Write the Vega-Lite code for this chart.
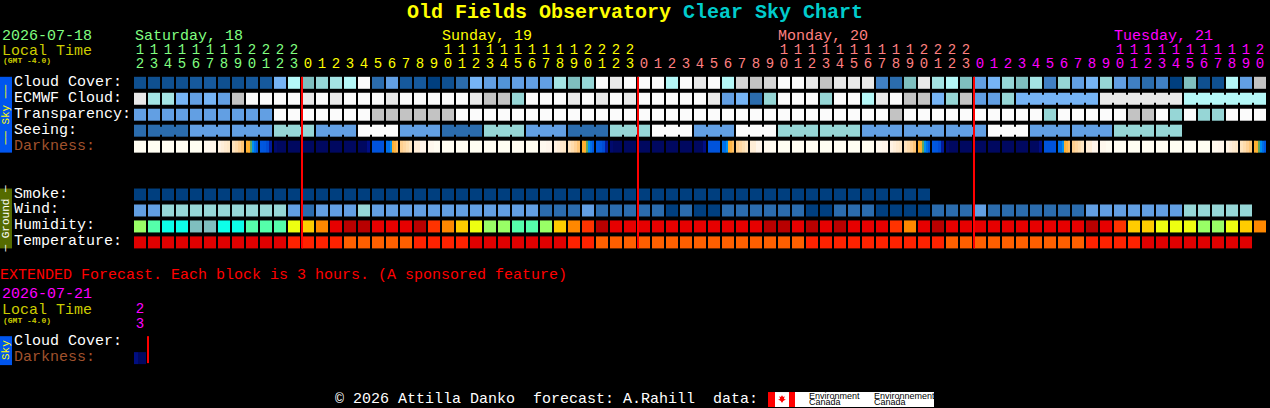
{"$schema":"https://vega.github.io/schema/vega-lite/v6.json","width":1270,"height":408,"padding":0,"autosize":{"type":"fit","contains":"padding"},"background":"#000000","config":{"view":{"stroke":null},"text":{"font":"Liberation Mono"}},
"datasets":{
"rows":[{"row":"tens","lane":-2.0625,"label":""},{"row":"ones","lane":-1.1875,"label":""},{"row":"cloud","lane":0,"label":"Cloud Cover:","tone":"white"},{"row":"ecmwf","lane":1,"label":"ECMWF Cloud:","tone":"white"},{"row":"transparency","lane":2,"label":"Transparency:","tone":"white"},{"row":"seeing","lane":3,"label":"Seeing:","tone":"white"},{"row":"darkness","lane":4,"label":"Darkness:","tone":"brown"},{"row":"smoke","lane":7,"label":"Smoke:","tone":"white"},{"row":"wind","lane":8,"label":"Wind:","tone":"white"},{"row":"humidity","lane":9,"label":"Humidity:","tone":"white"},{"row":"temperature","lane":10,"label":"Temperature:","tone":"white"},{"row":"xtens","lane":14.1875,"label":""},{"row":"xones","lane":15.125,"label":""},{"row":"xcloud","lane":16.25,"label":"Cloud Cover:","tone":"white"},{"row":"xdarkness","lane":17.25,"label":"Darkness:","tone":"brown"}],
"cells":[
{"hour":0,"row":"cloud","level":"b1"},{"hour":1,"row":"cloud","level":"b1"},{"hour":2,"row":"cloud","level":"b1"},{"hour":3,"row":"cloud","level":"b1"},{"hour":4,"row":"cloud","level":"b1b"},{"hour":5,"row":"cloud","level":"b1b"},{"hour":6,"row":"cloud","level":"b1"},{"hour":7,"row":"cloud","level":"b1"},{"hour":8,"row":"cloud","level":"b1b"},{"hour":9,"row":"cloud","level":"b1b"},{"hour":10,"row":"cloud","level":"b6"},{"hour":11,"row":"cloud","level":"t3"},{"hour":12,"row":"cloud","level":"t0"},{"hour":13,"row":"cloud","level":"t1"},{"hour":14,"row":"cloud","level":"t2"},{"hour":15,"row":"cloud","level":"t3"},{"hour":16,"row":"cloud","level":"w"},{"hour":17,"row":"cloud","level":"b2"},{"hour":18,"row":"cloud","level":"b5"},{"hour":19,"row":"cloud","level":"b1b"},{"hour":20,"row":"cloud","level":"b1b"},{"hour":21,"row":"cloud","level":"b0"},{"hour":22,"row":"cloud","level":"b1"},{"hour":23,"row":"cloud","level":"b2"},{"hour":24,"row":"cloud","level":"b6"},{"hour":25,"row":"cloud","level":"b5"},{"hour":26,"row":"cloud","level":"b4"},{"hour":27,"row":"cloud","level":"b5"},{"hour":28,"row":"cloud","level":"b5"},{"hour":29,"row":"cloud","level":"b5"},{"hour":30,"row":"cloud","level":"t2"},{"hour":31,"row":"cloud","level":"t0"},{"hour":32,"row":"cloud","level":"t1"},{"hour":33,"row":"cloud","level":"w"},{"hour":34,"row":"cloud","level":"g2"},{"hour":35,"row":"cloud","level":"w"},{"hour":36,"row":"cloud","level":"w"},{"hour":37,"row":"cloud","level":"w"},{"hour":38,"row":"cloud","level":"t3"},{"hour":39,"row":"cloud","level":"w"},{"hour":40,"row":"cloud","level":"g2"},{"hour":41,"row":"cloud","level":"w"},{"hour":42,"row":"cloud","level":"t3"},{"hour":43,"row":"cloud","level":"g1"},{"hour":44,"row":"cloud","level":"g0"},{"hour":45,"row":"cloud","level":"g1"},{"hour":46,"row":"cloud","level":"w"},{"hour":47,"row":"cloud","level":"w"},{"hour":48,"row":"cloud","level":"g2"},{"hour":49,"row":"cloud","level":"g0"},{"hour":50,"row":"cloud","level":"g2"},{"hour":51,"row":"cloud","level":"g2"},{"hour":52,"row":"cloud","level":"g2"},{"hour":53,"row":"cloud","level":"b3"},{"hour":54,"row":"cloud","level":"b2"},{"hour":55,"row":"cloud","level":"t0"},{"hour":56,"row":"cloud","level":"g2"},{"hour":57,"row":"cloud","level":"t2"},{"hour":58,"row":"cloud","level":"t3"},{"hour":59,"row":"cloud","level":"t0"},{"hour":60,"row":"cloud","level":"b5"},{"hour":61,"row":"cloud","level":"b6"},{"hour":62,"row":"cloud","level":"t1"},{"hour":63,"row":"cloud","level":"t0"},{"hour":64,"row":"cloud","level":"t2"},{"hour":65,"row":"cloud","level":"b3"},{"hour":66,"row":"cloud","level":"t1"},{"hour":67,"row":"cloud","level":"b5"},{"hour":68,"row":"cloud","level":"b6"},{"hour":69,"row":"cloud","level":"t1"},{"hour":70,"row":"cloud","level":"b5"},{"hour":71,"row":"cloud","level":"b3"},{"hour":72,"row":"cloud","level":"b2"},{"hour":73,"row":"cloud","level":"b3"},{"hour":74,"row":"cloud","level":"b0"},{"hour":75,"row":"cloud","level":"t0"},{"hour":76,"row":"cloud","level":"b1"},{"hour":77,"row":"cloud","level":"b1"},{"hour":78,"row":"cloud","level":"t3"},{"hour":79,"row":"cloud","level":"b5"},{"hour":80,"row":"cloud","level":"g0"},
{"hour":0,"row":"ecmwf","level":"g2"},{"hour":1,"row":"ecmwf","level":"t2"},{"hour":2,"row":"ecmwf","level":"t2"},{"hour":3,"row":"ecmwf","level":"b6"},{"hour":4,"row":"ecmwf","level":"b5"},{"hour":5,"row":"ecmwf","level":"b6"},{"hour":6,"row":"ecmwf","level":"b5"},{"hour":7,"row":"ecmwf","level":"g0"},{"hour":8,"row":"ecmwf","level":"w"},{"hour":9,"row":"ecmwf","level":"w"},{"hour":10,"row":"ecmwf","level":"w"},{"hour":11,"row":"ecmwf","level":"w"},{"hour":12,"row":"ecmwf","level":"g2"},{"hour":13,"row":"ecmwf","level":"w"},{"hour":14,"row":"ecmwf","level":"g2"},{"hour":15,"row":"ecmwf","level":"w"},{"hour":16,"row":"ecmwf","level":"w"},{"hour":17,"row":"ecmwf","level":"w"},{"hour":18,"row":"ecmwf","level":"g2"},{"hour":19,"row":"ecmwf","level":"w"},{"hour":20,"row":"ecmwf","level":"w"},{"hour":21,"row":"ecmwf","level":"w"},{"hour":22,"row":"ecmwf","level":"w"},{"hour":23,"row":"ecmwf","level":"w"},{"hour":24,"row":"ecmwf","level":"g2"},{"hour":25,"row":"ecmwf","level":"g0"},{"hour":26,"row":"ecmwf","level":"g0"},{"hour":27,"row":"ecmwf","level":"t1"},{"hour":28,"row":"ecmwf","level":"w"},{"hour":29,"row":"ecmwf","level":"w"},{"hour":30,"row":"ecmwf","level":"w"},{"hour":31,"row":"ecmwf","level":"g2"},{"hour":32,"row":"ecmwf","level":"w"},{"hour":33,"row":"ecmwf","level":"g2"},{"hour":34,"row":"ecmwf","level":"w"},{"hour":35,"row":"ecmwf","level":"g2"},{"hour":36,"row":"ecmwf","level":"w"},{"hour":37,"row":"ecmwf","level":"w"},{"hour":38,"row":"ecmwf","level":"w"},{"hour":39,"row":"ecmwf","level":"w"},{"hour":40,"row":"ecmwf","level":"w"},{"hour":41,"row":"ecmwf","level":"g2"},{"hour":42,"row":"ecmwf","level":"b5"},{"hour":43,"row":"ecmwf","level":"b6"},{"hour":44,"row":"ecmwf","level":"b2"},{"hour":45,"row":"ecmwf","level":"t1"},{"hour":46,"row":"ecmwf","level":"w"},{"hour":47,"row":"ecmwf","level":"w"},{"hour":48,"row":"ecmwf","level":"w"},{"hour":49,"row":"ecmwf","level":"t1"},{"hour":50,"row":"ecmwf","level":"w"},{"hour":51,"row":"ecmwf","level":"w"},{"hour":52,"row":"ecmwf","level":"t3"},{"hour":53,"row":"ecmwf","level":"g2"},{"hour":54,"row":"ecmwf","level":"w"},{"hour":55,"row":"ecmwf","level":"g0"},{"hour":56,"row":"ecmwf","level":"g0"},{"hour":57,"row":"ecmwf","level":"b6"},{"hour":58,"row":"ecmwf","level":"t1"},{"hour":59,"row":"ecmwf","level":"g0"},{"hour":60,"row":"ecmwf","level":"b5"},{"hour":61,"row":"ecmwf","level":"b5"},{"hour":62,"row":"ecmwf","level":"t1"},{"hour":63,"row":"ecmwf","level":"b6"},{"hour":64,"row":"ecmwf","level":"b6"},{"hour":65,"row":"ecmwf","level":"b6"},{"hour":66,"row":"ecmwf","level":"b6"},{"hour":67,"row":"ecmwf","level":"b6"},{"hour":68,"row":"ecmwf","level":"b6"},{"hour":69,"row":"ecmwf","level":"g2"},{"hour":70,"row":"ecmwf","level":"g2"},{"hour":71,"row":"ecmwf","level":"g2"},{"hour":72,"row":"ecmwf","level":"g2"},{"hour":73,"row":"ecmwf","level":"g2"},{"hour":74,"row":"ecmwf","level":"g2"},{"hour":75,"row":"ecmwf","level":"t3"},{"hour":76,"row":"ecmwf","level":"t3"},{"hour":77,"row":"ecmwf","level":"t3"},{"hour":78,"row":"ecmwf","level":"t3"},{"hour":79,"row":"ecmwf","level":"t3"},{"hour":80,"row":"ecmwf","level":"t3"},
{"hour":0,"row":"transparency","level":"b5"},{"hour":1,"row":"transparency","level":"b5"},{"hour":2,"row":"transparency","level":"b5"},{"hour":3,"row":"transparency","level":"b5"},{"hour":4,"row":"transparency","level":"b5"},{"hour":5,"row":"transparency","level":"b5"},{"hour":6,"row":"transparency","level":"b5"},{"hour":7,"row":"transparency","level":"b5"},{"hour":8,"row":"transparency","level":"b5"},{"hour":9,"row":"transparency","level":"b5"},{"hour":10,"row":"transparency","level":"w"},{"hour":11,"row":"transparency","level":"w"},{"hour":12,"row":"transparency","level":"w"},{"hour":13,"row":"transparency","level":"w"},{"hour":14,"row":"transparency","level":"w"},{"hour":15,"row":"transparency","level":"w"},{"hour":16,"row":"transparency","level":"w"},{"hour":17,"row":"transparency","level":"g0"},{"hour":18,"row":"transparency","level":"g0"},{"hour":19,"row":"transparency","level":"g0"},{"hour":20,"row":"transparency","level":"g0"},{"hour":21,"row":"transparency","level":"g0"},{"hour":22,"row":"transparency","level":"g0"},{"hour":23,"row":"transparency","level":"w"},{"hour":24,"row":"transparency","level":"w"},{"hour":25,"row":"transparency","level":"w"},{"hour":26,"row":"transparency","level":"w"},{"hour":27,"row":"transparency","level":"w"},{"hour":28,"row":"transparency","level":"w"},{"hour":29,"row":"transparency","level":"w"},{"hour":30,"row":"transparency","level":"w"},{"hour":31,"row":"transparency","level":"w"},{"hour":32,"row":"transparency","level":"w"},{"hour":33,"row":"transparency","level":"w"},{"hour":34,"row":"transparency","level":"w"},{"hour":35,"row":"transparency","level":"w"},{"hour":36,"row":"transparency","level":"w"},{"hour":37,"row":"transparency","level":"w"},{"hour":38,"row":"transparency","level":"w"},{"hour":39,"row":"transparency","level":"w"},{"hour":40,"row":"transparency","level":"w"},{"hour":41,"row":"transparency","level":"w"},{"hour":42,"row":"transparency","level":"w"},{"hour":43,"row":"transparency","level":"w"},{"hour":44,"row":"transparency","level":"w"},{"hour":45,"row":"transparency","level":"w"},{"hour":46,"row":"transparency","level":"w"},{"hour":47,"row":"transparency","level":"w"},{"hour":48,"row":"transparency","level":"w"},{"hour":49,"row":"transparency","level":"w"},{"hour":50,"row":"transparency","level":"w"},{"hour":51,"row":"transparency","level":"w"},{"hour":52,"row":"transparency","level":"w"},{"hour":53,"row":"transparency","level":"w"},{"hour":54,"row":"transparency","level":"g0"},{"hour":55,"row":"transparency","level":"w"},{"hour":56,"row":"transparency","level":"w"},{"hour":57,"row":"transparency","level":"w"},{"hour":58,"row":"transparency","level":"w"},{"hour":59,"row":"transparency","level":"w"},{"hour":60,"row":"transparency","level":"w"},{"hour":61,"row":"transparency","level":"w"},{"hour":62,"row":"transparency","level":"w"},{"hour":63,"row":"transparency","level":"w"},{"hour":64,"row":"transparency","level":"w"},{"hour":65,"row":"transparency","level":"t1"},{"hour":66,"row":"transparency","level":"w"},{"hour":67,"row":"transparency","level":"w"},{"hour":68,"row":"transparency","level":"w"},{"hour":69,"row":"transparency","level":"w"},{"hour":70,"row":"transparency","level":"w"},{"hour":71,"row":"transparency","level":"g0"},{"hour":72,"row":"transparency","level":"g0"},{"hour":73,"row":"transparency","level":"w"},{"hour":74,"row":"transparency","level":"t1"},{"hour":75,"row":"transparency","level":"w"},{"hour":76,"row":"transparency","level":"t1"},{"hour":77,"row":"transparency","level":"t1"},{"hour":78,"row":"transparency","level":"w"},{"hour":79,"row":"transparency","level":"w"},{"hour":80,"row":"transparency","level":"w"},
{"hour":0,"row":"seeing","level":"b2"},{"hour":1,"row":"seeing","level":"b2"},{"hour":2,"row":"seeing","level":"b2"},{"hour":3,"row":"seeing","level":"b2"},{"hour":4,"row":"seeing","level":"b5"},{"hour":5,"row":"seeing","level":"b5"},{"hour":6,"row":"seeing","level":"b5"},{"hour":7,"row":"seeing","level":"b5"},{"hour":8,"row":"seeing","level":"b5"},{"hour":9,"row":"seeing","level":"b5"},{"hour":10,"row":"seeing","level":"t1"},{"hour":11,"row":"seeing","level":"t1"},{"hour":12,"row":"seeing","level":"t1"},{"hour":13,"row":"seeing","level":"b5"},{"hour":14,"row":"seeing","level":"b5"},{"hour":15,"row":"seeing","level":"b5"},{"hour":16,"row":"seeing","level":"w"},{"hour":17,"row":"seeing","level":"w"},{"hour":18,"row":"seeing","level":"w"},{"hour":19,"row":"seeing","level":"b5"},{"hour":20,"row":"seeing","level":"b5"},{"hour":21,"row":"seeing","level":"b5"},{"hour":22,"row":"seeing","level":"b2"},{"hour":23,"row":"seeing","level":"b2"},{"hour":24,"row":"seeing","level":"b2"},{"hour":25,"row":"seeing","level":"t1"},{"hour":26,"row":"seeing","level":"t1"},{"hour":27,"row":"seeing","level":"t1"},{"hour":28,"row":"seeing","level":"b5"},{"hour":29,"row":"seeing","level":"b5"},{"hour":30,"row":"seeing","level":"b5"},{"hour":31,"row":"seeing","level":"b2"},{"hour":32,"row":"seeing","level":"b2"},{"hour":33,"row":"seeing","level":"b2"},{"hour":34,"row":"seeing","level":"t1"},{"hour":35,"row":"seeing","level":"t1"},{"hour":36,"row":"seeing","level":"t1"},{"hour":37,"row":"seeing","level":"w"},{"hour":38,"row":"seeing","level":"w"},{"hour":39,"row":"seeing","level":"w"},{"hour":40,"row":"seeing","level":"b5"},{"hour":41,"row":"seeing","level":"b5"},{"hour":42,"row":"seeing","level":"b5"},{"hour":43,"row":"seeing","level":"w"},{"hour":44,"row":"seeing","level":"w"},{"hour":45,"row":"seeing","level":"w"},{"hour":46,"row":"seeing","level":"t1"},{"hour":47,"row":"seeing","level":"t1"},{"hour":48,"row":"seeing","level":"t1"},{"hour":49,"row":"seeing","level":"t1"},{"hour":50,"row":"seeing","level":"t1"},{"hour":51,"row":"seeing","level":"t1"},{"hour":52,"row":"seeing","level":"b5"},{"hour":53,"row":"seeing","level":"b5"},{"hour":54,"row":"seeing","level":"b5"},{"hour":55,"row":"seeing","level":"b5"},{"hour":56,"row":"seeing","level":"b5"},{"hour":57,"row":"seeing","level":"b5"},{"hour":58,"row":"seeing","level":"b5"},{"hour":59,"row":"seeing","level":"b5"},{"hour":60,"row":"seeing","level":"b5"},{"hour":61,"row":"seeing","level":"w"},{"hour":62,"row":"seeing","level":"w"},{"hour":63,"row":"seeing","level":"w"},{"hour":64,"row":"seeing","level":"b5"},{"hour":65,"row":"seeing","level":"b5"},{"hour":66,"row":"seeing","level":"b5"},{"hour":67,"row":"seeing","level":"b5"},{"hour":68,"row":"seeing","level":"b5"},{"hour":69,"row":"seeing","level":"b5"},{"hour":70,"row":"seeing","level":"t1"},{"hour":71,"row":"seeing","level":"t1"},{"hour":72,"row":"seeing","level":"t1"},{"hour":73,"row":"seeing","level":"t1"},{"hour":74,"row":"seeing","level":"t1"},
{"hour":0,"row":"smoke","level":"b0"},{"hour":1,"row":"smoke","level":"b0"},{"hour":2,"row":"smoke","level":"b0"},{"hour":3,"row":"smoke","level":"b0"},{"hour":4,"row":"smoke","level":"b0"},{"hour":5,"row":"smoke","level":"b0"},{"hour":6,"row":"smoke","level":"b0"},{"hour":7,"row":"smoke","level":"b0"},{"hour":8,"row":"smoke","level":"b0"},{"hour":9,"row":"smoke","level":"b0"},{"hour":10,"row":"smoke","level":"b0"},{"hour":11,"row":"smoke","level":"b0"},{"hour":12,"row":"smoke","level":"b0"},{"hour":13,"row":"smoke","level":"b0"},{"hour":14,"row":"smoke","level":"b0"},{"hour":15,"row":"smoke","level":"b0"},{"hour":16,"row":"smoke","level":"b0"},{"hour":17,"row":"smoke","level":"b0"},{"hour":18,"row":"smoke","level":"b0"},{"hour":19,"row":"smoke","level":"b0"},{"hour":20,"row":"smoke","level":"b0"},{"hour":21,"row":"smoke","level":"b0"},{"hour":22,"row":"smoke","level":"b0"},{"hour":23,"row":"smoke","level":"b0"},{"hour":24,"row":"smoke","level":"b0"},{"hour":25,"row":"smoke","level":"b0"},{"hour":26,"row":"smoke","level":"b0"},{"hour":27,"row":"smoke","level":"b0"},{"hour":28,"row":"smoke","level":"b0"},{"hour":29,"row":"smoke","level":"b0"},{"hour":30,"row":"smoke","level":"b0"},{"hour":31,"row":"smoke","level":"b0"},{"hour":32,"row":"smoke","level":"b0"},{"hour":33,"row":"smoke","level":"b0"},{"hour":34,"row":"smoke","level":"b0"},{"hour":35,"row":"smoke","level":"b0"},{"hour":36,"row":"smoke","level":"b0"},{"hour":37,"row":"smoke","level":"b0"},{"hour":38,"row":"smoke","level":"b0"},{"hour":39,"row":"smoke","level":"b0"},{"hour":40,"row":"smoke","level":"b0"},{"hour":41,"row":"smoke","level":"b0"},{"hour":42,"row":"smoke","level":"b0"},{"hour":43,"row":"smoke","level":"b0"},{"hour":44,"row":"smoke","level":"b0"},{"hour":45,"row":"smoke","level":"b0"},{"hour":46,"row":"smoke","level":"b0"},{"hour":47,"row":"smoke","level":"b0"},{"hour":48,"row":"smoke","level":"b0"},{"hour":49,"row":"smoke","level":"b0"},{"hour":50,"row":"smoke","level":"b0"},{"hour":51,"row":"smoke","level":"b0"},{"hour":52,"row":"smoke","level":"b0"},{"hour":53,"row":"smoke","level":"b0"},{"hour":54,"row":"smoke","level":"b0"},{"hour":55,"row":"smoke","level":"b0"},{"hour":56,"row":"smoke","level":"b0"},
{"hour":0,"row":"wind","level":"b5"},{"hour":1,"row":"wind","level":"b5"},{"hour":2,"row":"wind","level":"t1"},{"hour":3,"row":"wind","level":"t1"},{"hour":4,"row":"wind","level":"t1"},{"hour":5,"row":"wind","level":"t1"},{"hour":6,"row":"wind","level":"t1"},{"hour":7,"row":"wind","level":"t1"},{"hour":8,"row":"wind","level":"t1"},{"hour":9,"row":"wind","level":"t1"},{"hour":10,"row":"wind","level":"t1"},{"hour":11,"row":"wind","level":"b5"},{"hour":12,"row":"wind","level":"b2"},{"hour":13,"row":"wind","level":"b5"},{"hour":14,"row":"wind","level":"b5"},{"hour":15,"row":"wind","level":"b5"},{"hour":16,"row":"wind","level":"t1"},{"hour":17,"row":"wind","level":"b5"},{"hour":18,"row":"wind","level":"b5"},{"hour":19,"row":"wind","level":"b5"},{"hour":20,"row":"wind","level":"b5"},{"hour":21,"row":"wind","level":"b5"},{"hour":22,"row":"wind","level":"b5"},{"hour":23,"row":"wind","level":"b5"},{"hour":24,"row":"wind","level":"b5"},{"hour":25,"row":"wind","level":"b5"},{"hour":26,"row":"wind","level":"b5"},{"hour":27,"row":"wind","level":"b5"},{"hour":28,"row":"wind","level":"b5"},{"hour":29,"row":"wind","level":"b2"},{"hour":30,"row":"wind","level":"b2"},{"hour":31,"row":"wind","level":"b2"},{"hour":32,"row":"wind","level":"b5"},{"hour":33,"row":"wind","level":"b2"},{"hour":34,"row":"wind","level":"b2"},{"hour":35,"row":"wind","level":"b2"},{"hour":36,"row":"wind","level":"b2"},{"hour":37,"row":"wind","level":"b2"},{"hour":38,"row":"wind","level":"b0"},{"hour":39,"row":"wind","level":"b2"},{"hour":40,"row":"wind","level":"b0"},{"hour":41,"row":"wind","level":"b0"},{"hour":42,"row":"wind","level":"b2"},{"hour":43,"row":"wind","level":"b2"},{"hour":44,"row":"wind","level":"b2"},{"hour":45,"row":"wind","level":"b2"},{"hour":46,"row":"wind","level":"b2"},{"hour":47,"row":"wind","level":"b2"},{"hour":48,"row":"wind","level":"b0"},{"hour":49,"row":"wind","level":"b0"},{"hour":50,"row":"wind","level":"b2"},{"hour":51,"row":"wind","level":"b2"},{"hour":52,"row":"wind","level":"b2"},{"hour":53,"row":"wind","level":"b0"},{"hour":54,"row":"wind","level":"b0"},{"hour":55,"row":"wind","level":"b0"},{"hour":56,"row":"wind","level":"b0"},{"hour":57,"row":"wind","level":"b2"},{"hour":58,"row":"wind","level":"b2"},{"hour":59,"row":"wind","level":"b2"},{"hour":60,"row":"wind","level":"b5"},{"hour":61,"row":"wind","level":"b2"},{"hour":62,"row":"wind","level":"b2"},{"hour":63,"row":"wind","level":"b2"},{"hour":64,"row":"wind","level":"b2"},{"hour":65,"row":"wind","level":"b2"},{"hour":66,"row":"wind","level":"b2"},{"hour":67,"row":"wind","level":"b2"},{"hour":68,"row":"wind","level":"b5"},{"hour":69,"row":"wind","level":"b5"},{"hour":70,"row":"wind","level":"b5"},{"hour":71,"row":"wind","level":"b5"},{"hour":72,"row":"wind","level":"b5"},{"hour":73,"row":"wind","level":"b5"},{"hour":74,"row":"wind","level":"b5"},{"hour":75,"row":"wind","level":"t1"},{"hour":76,"row":"wind","level":"t1"},{"hour":77,"row":"wind","level":"t1"},{"hour":78,"row":"wind","level":"t1"},{"hour":79,"row":"wind","level":"t1"},
{"hour":0,"row":"humidity","level":"lime"},{"hour":1,"row":"humidity","level":"sea"},{"hour":2,"row":"humidity","level":"cyan"},{"hour":3,"row":"humidity","level":"cyan"},{"hour":4,"row":"humidity","level":"t0"},{"hour":5,"row":"humidity","level":"t0"},{"hour":6,"row":"humidity","level":"cyan"},{"hour":7,"row":"humidity","level":"cyan"},{"hour":8,"row":"humidity","level":"sea"},{"hour":9,"row":"humidity","level":"sea"},{"hour":10,"row":"humidity","level":"sea"},{"hour":11,"row":"humidity","level":"yellow"},{"hour":12,"row":"humidity","level":"amber"},{"hour":13,"row":"humidity","level":"orange"},{"hour":14,"row":"humidity","level":"red"},{"hour":15,"row":"humidity","level":"dred"},{"hour":16,"row":"humidity","level":"dred"},{"hour":17,"row":"humidity","level":"red"},{"hour":18,"row":"humidity","level":"red"},{"hour":19,"row":"humidity","level":"red"},{"hour":20,"row":"humidity","level":"dred"},{"hour":21,"row":"humidity","level":"ored"},{"hour":22,"row":"humidity","level":"orange"},{"hour":23,"row":"humidity","level":"amber"},{"hour":24,"row":"humidity","level":"yellow"},{"hour":25,"row":"humidity","level":"lime"},{"hour":26,"row":"humidity","level":"lime"},{"hour":27,"row":"humidity","level":"sea"},{"hour":28,"row":"humidity","level":"sea"},{"hour":29,"row":"humidity","level":"lime"},{"hour":30,"row":"humidity","level":"amber"},{"hour":31,"row":"humidity","level":"orange"},{"hour":32,"row":"humidity","level":"ored"},{"hour":33,"row":"humidity","level":"dred"},{"hour":34,"row":"humidity","level":"red"},{"hour":35,"row":"humidity","level":"red"},{"hour":36,"row":"humidity","level":"red"},{"hour":37,"row":"humidity","level":"red"},{"hour":38,"row":"humidity","level":"red"},{"hour":39,"row":"humidity","level":"red"},{"hour":40,"row":"humidity","level":"red"},{"hour":41,"row":"humidity","level":"red"},{"hour":42,"row":"humidity","level":"red"},{"hour":43,"row":"humidity","level":"red"},{"hour":44,"row":"humidity","level":"red"},{"hour":45,"row":"humidity","level":"dred"},{"hour":46,"row":"humidity","level":"dred"},{"hour":47,"row":"humidity","level":"red"},{"hour":48,"row":"humidity","level":"dred"},{"hour":49,"row":"humidity","level":"red"},{"hour":50,"row":"humidity","level":"dred"},{"hour":51,"row":"humidity","level":"red"},{"hour":52,"row":"humidity","level":"red"},{"hour":53,"row":"humidity","level":"red"},{"hour":54,"row":"humidity","level":"ored"},{"hour":55,"row":"humidity","level":"orange"},{"hour":56,"row":"humidity","level":"red"},{"hour":57,"row":"humidity","level":"dred"},{"hour":58,"row":"humidity","level":"red"},{"hour":59,"row":"humidity","level":"red"},{"hour":60,"row":"humidity","level":"red"},{"hour":61,"row":"humidity","level":"red"},{"hour":62,"row":"humidity","level":"red"},{"hour":63,"row":"humidity","level":"red"},{"hour":64,"row":"humidity","level":"red"},{"hour":65,"row":"humidity","level":"red"},{"hour":66,"row":"humidity","level":"red"},{"hour":67,"row":"humidity","level":"red"},{"hour":68,"row":"humidity","level":"dred"},{"hour":69,"row":"humidity","level":"red"},{"hour":70,"row":"humidity","level":"ored"},{"hour":71,"row":"humidity","level":"amber"},{"hour":72,"row":"humidity","level":"amber"},{"hour":73,"row":"humidity","level":"yellow"},{"hour":74,"row":"humidity","level":"yellow"},{"hour":75,"row":"humidity","level":"yellow"},{"hour":76,"row":"humidity","level":"lime"},{"hour":77,"row":"humidity","level":"lime"},{"hour":78,"row":"humidity","level":"yellow"},{"hour":79,"row":"humidity","level":"amber"},{"hour":80,"row":"humidity","level":"orange"},
{"hour":0,"row":"temperature","level":"tr"},{"hour":1,"row":"temperature","level":"tr"},{"hour":2,"row":"temperature","level":"tr"},{"hour":3,"row":"temperature","level":"tr"},{"hour":4,"row":"temperature","level":"tr"},{"hour":5,"row":"temperature","level":"tr"},{"hour":6,"row":"temperature","level":"tr"},{"hour":7,"row":"temperature","level":"tr"},{"hour":8,"row":"temperature","level":"tr"},{"hour":9,"row":"temperature","level":"tr"},{"hour":10,"row":"temperature","level":"tr"},{"hour":11,"row":"temperature","level":"to"},{"hour":12,"row":"temperature","level":"to"},{"hour":13,"row":"temperature","level":"to"},{"hour":14,"row":"temperature","level":"to"},{"hour":15,"row":"temperature","level":"tq"},{"hour":16,"row":"temperature","level":"tq"},{"hour":17,"row":"temperature","level":"tq"},{"hour":18,"row":"temperature","level":"tq"},{"hour":19,"row":"temperature","level":"tq"},{"hour":20,"row":"temperature","level":"to"},{"hour":21,"row":"temperature","level":"to"},{"hour":22,"row":"temperature","level":"to"},{"hour":23,"row":"temperature","level":"to"},{"hour":24,"row":"temperature","level":"tr"},{"hour":25,"row":"temperature","level":"tr"},{"hour":26,"row":"temperature","level":"tr"},{"hour":27,"row":"temperature","level":"tr"},{"hour":28,"row":"temperature","level":"tr"},{"hour":29,"row":"temperature","level":"tr"},{"hour":30,"row":"temperature","level":"tr"},{"hour":31,"row":"temperature","level":"to"},{"hour":32,"row":"temperature","level":"to"},{"hour":33,"row":"temperature","level":"tq"},{"hour":34,"row":"temperature","level":"tq"},{"hour":35,"row":"temperature","level":"tq"},{"hour":36,"row":"temperature","level":"tq"},{"hour":37,"row":"temperature","level":"tq"},{"hour":38,"row":"temperature","level":"tq"},{"hour":39,"row":"temperature","level":"tq"},{"hour":40,"row":"temperature","level":"tq"},{"hour":41,"row":"temperature","level":"tq"},{"hour":42,"row":"temperature","level":"tq"},{"hour":43,"row":"temperature","level":"tq"},{"hour":44,"row":"temperature","level":"tq"},{"hour":45,"row":"temperature","level":"tq"},{"hour":46,"row":"temperature","level":"tq"},{"hour":47,"row":"temperature","level":"tq"},{"hour":48,"row":"temperature","level":"to"},{"hour":49,"row":"temperature","level":"to"},{"hour":50,"row":"temperature","level":"to"},{"hour":51,"row":"temperature","level":"to"},{"hour":52,"row":"temperature","level":"to"},{"hour":53,"row":"temperature","level":"to"},{"hour":54,"row":"temperature","level":"to"},{"hour":55,"row":"temperature","level":"to"},{"hour":56,"row":"temperature","level":"to"},{"hour":57,"row":"temperature","level":"to"},{"hour":58,"row":"temperature","level":"tq"},{"hour":59,"row":"temperature","level":"tq"},{"hour":60,"row":"temperature","level":"tq"},{"hour":61,"row":"temperature","level":"tq"},{"hour":62,"row":"temperature","level":"tq"},{"hour":63,"row":"temperature","level":"tq"},{"hour":64,"row":"temperature","level":"tq"},{"hour":65,"row":"temperature","level":"tq"},{"hour":66,"row":"temperature","level":"tq"},{"hour":67,"row":"temperature","level":"tq"},{"hour":68,"row":"temperature","level":"to"},{"hour":69,"row":"temperature","level":"to"},{"hour":70,"row":"temperature","level":"to"},{"hour":71,"row":"temperature","level":"to"},{"hour":72,"row":"temperature","level":"tr"},{"hour":73,"row":"temperature","level":"tr"},{"hour":74,"row":"temperature","level":"tr"},{"hour":75,"row":"temperature","level":"tr"},{"hour":76,"row":"temperature","level":"tr"},{"hour":77,"row":"temperature","level":"tr"},{"hour":78,"row":"temperature","level":"tr"},{"hour":79,"row":"temperature","level":"tr"}
],
"links":[{"hour":1.5,"row":"seeing","level":"b2"},{"hour":2.5,"row":"seeing","level":"b2"},{"hour":4.5,"row":"seeing","level":"b5"},{"hour":5.5,"row":"seeing","level":"b5"},{"hour":7.5,"row":"seeing","level":"b5"},{"hour":8.5,"row":"seeing","level":"b5"},{"hour":10.5,"row":"seeing","level":"t1"},{"hour":11.5,"row":"seeing","level":"t1"},{"hour":13.5,"row":"seeing","level":"b5"},{"hour":14.5,"row":"seeing","level":"b5"},{"hour":16.5,"row":"seeing","level":"w"},{"hour":17.5,"row":"seeing","level":"w"},{"hour":19.5,"row":"seeing","level":"b5"},{"hour":20.5,"row":"seeing","level":"b5"},{"hour":22.5,"row":"seeing","level":"b2"},{"hour":23.5,"row":"seeing","level":"b2"},{"hour":25.5,"row":"seeing","level":"t1"},{"hour":26.5,"row":"seeing","level":"t1"},{"hour":28.5,"row":"seeing","level":"b5"},{"hour":29.5,"row":"seeing","level":"b5"},{"hour":31.5,"row":"seeing","level":"b2"},{"hour":32.5,"row":"seeing","level":"b2"},{"hour":34.5,"row":"seeing","level":"t1"},{"hour":35.5,"row":"seeing","level":"t1"},{"hour":37.5,"row":"seeing","level":"w"},{"hour":38.5,"row":"seeing","level":"w"},{"hour":40.5,"row":"seeing","level":"b5"},{"hour":41.5,"row":"seeing","level":"b5"},{"hour":43.5,"row":"seeing","level":"w"},{"hour":44.5,"row":"seeing","level":"w"},{"hour":46.5,"row":"seeing","level":"t1"},{"hour":47.5,"row":"seeing","level":"t1"},{"hour":49.5,"row":"seeing","level":"t1"},{"hour":50.5,"row":"seeing","level":"t1"},{"hour":52.5,"row":"seeing","level":"b5"},{"hour":53.5,"row":"seeing","level":"b5"},{"hour":55.5,"row":"seeing","level":"b5"},{"hour":56.5,"row":"seeing","level":"b5"},{"hour":58.5,"row":"seeing","level":"b5"},{"hour":59.5,"row":"seeing","level":"b5"},{"hour":61.5,"row":"seeing","level":"w"},{"hour":62.5,"row":"seeing","level":"w"},{"hour":64.5,"row":"seeing","level":"b5"},{"hour":65.5,"row":"seeing","level":"b5"},{"hour":67.5,"row":"seeing","level":"b5"},{"hour":68.5,"row":"seeing","level":"b5"},{"hour":70.5,"row":"seeing","level":"t1"},{"hour":71.5,"row":"seeing","level":"t1"},{"hour":73.5,"row":"seeing","level":"t1"},{"hour":63.5,"row":"ecmwf","level":"b6"},{"hour":64.5,"row":"ecmwf","level":"b6"},{"hour":65.5,"row":"ecmwf","level":"b6"},{"hour":66.5,"row":"ecmwf","level":"b6"},{"hour":67.5,"row":"ecmwf","level":"b6"},{"hour":69.5,"row":"ecmwf","level":"g2"},{"hour":70.5,"row":"ecmwf","level":"g2"},{"hour":71.5,"row":"ecmwf","level":"g2"},{"hour":72.5,"row":"ecmwf","level":"g2"},{"hour":73.5,"row":"ecmwf","level":"g2"},{"hour":75.5,"row":"ecmwf","level":"t3"},{"hour":76.5,"row":"ecmwf","level":"t3"},{"hour":77.5,"row":"ecmwf","level":"t3"},{"hour":78.5,"row":"ecmwf","level":"t3"},{"hour":79.5,"row":"ecmwf","level":"t3"}],
"dark":[
{"start":-0.4286,"end":0.4286,"row":"darkness","mag":0},{"start":0.5714,"end":1.4286,"row":"darkness","mag":0},{"start":1.5714,"end":2.4286,"row":"darkness","mag":0},{"start":2.5714,"end":3.4286,"row":"darkness","mag":0},
{"start":3.5714,"end":4.4286,"row":"darkness","mag":0.1},{"start":4.5714,"end":5,"row":"darkness","mag":0.5},{"start":5,"end":5.4286,"row":"darkness","mag":0.9},{"start":5.5714,"end":5.7857,"row":"darkness","mag":1.2},{"start":5.7857,"end":6,"row":"darkness","mag":1.5},{"start":6,"end":6.2143,"row":"darkness","mag":1.8},{"start":6.2143,"end":6.4286,"row":"darkness","mag":2},{"start":6.5714,"end":6.7857,"row":"darkness","mag":2.2},{"start":6.7857,"end":7,"row":"darkness","mag":2.5},{"start":7,"end":7.2143,"row":"darkness","mag":2.9},{"start":7.2143,"end":7.4286,"row":"darkness","mag":3.3},{"start":7.5714,"end":7.7143,"row":"darkness","mag":4},{"start":7.7143,"end":7.8571,"row":"darkness","mag":4},{"start":7.8571,"end":8,"row":"darkness","mag":5},{"start":8,"end":8.1429,"row":"darkness","mag":6},{"start":8.1429,"end":8.2857,"row":"darkness","mag":6.6},{"start":8.2857,"end":8.4286,"row":"darkness","mag":7},{"start":8.5714,"end":8.7857,"row":"darkness","mag":7},{"start":8.7857,"end":9,"row":"darkness","mag":7.1},{"start":9,"end":9.2143,"row":"darkness","mag":7.5},{"start":9.2143,"end":9.4286,"row":"darkness","mag":8.8},{"start":9.5714,"end":9.7857,"row":"darkness","mag":9.7},{"start":9.7857,"end":10.4286,"row":"darkness","mag":10},{"start":10.5714,"end":11.4286,"row":"darkness","mag":10},{"start":11.5714,"end":12.4286,"row":"darkness","mag":10},{"start":12.5714,"end":13.4286,"row":"darkness","mag":10},{"start":13.5714,"end":14.4286,"row":"darkness","mag":10},{"start":14.5714,"end":15.4286,"row":"darkness","mag":10},{"start":15.5714,"end":16.2143,"row":"darkness","mag":10},{"start":16.2143,"end":16.4286,"row":"darkness","mag":9.2},{"start":16.5714,"end":17.4286,"row":"darkness","mag":7.2},{"start":17.5714,"end":17.7143,"row":"darkness","mag":6.6},{"start":17.7143,"end":17.8571,"row":"darkness","mag":6.6},{"start":17.8571,"end":18,"row":"darkness","mag":6},{"start":18,"end":18.1429,"row":"darkness","mag":4},{"start":18.1429,"end":18.2857,"row":"darkness","mag":3.8},{"start":18.2857,"end":18.4286,"row":"darkness","mag":3.5},{"start":18.5714,"end":18.7857,"row":"darkness","mag":3},{"start":18.7857,"end":19,"row":"darkness","mag":2.7},{"start":19,"end":19.2143,"row":"darkness","mag":2.4},{"start":19.2143,"end":19.4286,"row":"darkness","mag":2.1},{"start":19.5714,"end":20,"row":"darkness","mag":1.6},{"start":20,"end":20.4286,"row":"darkness","mag":1},{"start":20.5714,"end":21,"row":"darkness","mag":0.6},{"start":21,"end":21.4286,"row":"darkness","mag":0.2},{"start":21.5714,"end":22.4286,"row":"darkness","mag":0},{"start":22.5714,"end":23.4286,"row":"darkness","mag":0},{"start":23.5714,"end":24.4286,"row":"darkness","mag":0},{"start":24.5714,"end":25.4286,"row":"darkness","mag":0},{"start":25.5714,"end":26.4286,"row":"darkness","mag":0},{"start":26.5714,"end":27.4286,"row":"darkness","mag":0},
{"start":27.5714,"end":28.4286,"row":"darkness","mag":0.1},{"start":28.5714,"end":29,"row":"darkness","mag":0.5},{"start":29,"end":29.4286,"row":"darkness","mag":0.9},{"start":29.5714,"end":29.7857,"row":"darkness","mag":1.2},{"start":29.7857,"end":30,"row":"darkness","mag":1.5},{"start":30,"end":30.2143,"row":"darkness","mag":1.8},{"start":30.2143,"end":30.4286,"row":"darkness","mag":2},{"start":30.5714,"end":30.7857,"row":"darkness","mag":2.2},{"start":30.7857,"end":31,"row":"darkness","mag":2.5},{"start":31,"end":31.2143,"row":"darkness","mag":2.9},{"start":31.2143,"end":31.4286,"row":"darkness","mag":3.3},{"start":31.5714,"end":31.7143,"row":"darkness","mag":4},{"start":31.7143,"end":31.8571,"row":"darkness","mag":4},{"start":31.8571,"end":32,"row":"darkness","mag":5},{"start":32,"end":32.1429,"row":"darkness","mag":6},{"start":32.1429,"end":32.2857,"row":"darkness","mag":6.6},{"start":32.2857,"end":32.4286,"row":"darkness","mag":7},{"start":32.5714,"end":32.7857,"row":"darkness","mag":7},{"start":32.7857,"end":33,"row":"darkness","mag":7.1},{"start":33,"end":33.2143,"row":"darkness","mag":7.5},{"start":33.2143,"end":33.4286,"row":"darkness","mag":8.8},{"start":33.5714,"end":33.7857,"row":"darkness","mag":9.7},{"start":33.7857,"end":34.4286,"row":"darkness","mag":10},{"start":34.5714,"end":35.4286,"row":"darkness","mag":10},{"start":35.5714,"end":36.4286,"row":"darkness","mag":10},{"start":36.5714,"end":37.4286,"row":"darkness","mag":10},{"start":37.5714,"end":38.4286,"row":"darkness","mag":10},{"start":38.5714,"end":39.4286,"row":"darkness","mag":10},{"start":39.5714,"end":40.2143,"row":"darkness","mag":10},{"start":40.2143,"end":40.4286,"row":"darkness","mag":9.2},{"start":40.5714,"end":41.4286,"row":"darkness","mag":7.2},{"start":41.5714,"end":41.7143,"row":"darkness","mag":6.6},{"start":41.7143,"end":41.8571,"row":"darkness","mag":6.6},{"start":41.8571,"end":42,"row":"darkness","mag":6},{"start":42,"end":42.1429,"row":"darkness","mag":4},{"start":42.1429,"end":42.2857,"row":"darkness","mag":3.8},{"start":42.2857,"end":42.4286,"row":"darkness","mag":3.5},{"start":42.5714,"end":42.7857,"row":"darkness","mag":3},{"start":42.7857,"end":43,"row":"darkness","mag":2.7},{"start":43,"end":43.2143,"row":"darkness","mag":2.4},{"start":43.2143,"end":43.4286,"row":"darkness","mag":2.1},{"start":43.5714,"end":44,"row":"darkness","mag":1.6},{"start":44,"end":44.4286,"row":"darkness","mag":1},{"start":44.5714,"end":45,"row":"darkness","mag":0.6},{"start":45,"end":45.4286,"row":"darkness","mag":0.2},{"start":45.5714,"end":46.4286,"row":"darkness","mag":0},{"start":46.5714,"end":47.4286,"row":"darkness","mag":0},{"start":47.5714,"end":48.4286,"row":"darkness","mag":0},{"start":48.5714,"end":49.4286,"row":"darkness","mag":0},{"start":49.5714,"end":50.4286,"row":"darkness","mag":0},{"start":50.5714,"end":51.4286,"row":"darkness","mag":0},
{"start":51.5714,"end":52.4286,"row":"darkness","mag":0.1},{"start":52.5714,"end":53,"row":"darkness","mag":0.5},{"start":53,"end":53.4286,"row":"darkness","mag":0.9},{"start":53.5714,"end":53.7857,"row":"darkness","mag":1.2},{"start":53.7857,"end":54,"row":"darkness","mag":1.5},{"start":54,"end":54.2143,"row":"darkness","mag":1.8},{"start":54.2143,"end":54.4286,"row":"darkness","mag":2},{"start":54.5714,"end":54.7857,"row":"darkness","mag":2.2},{"start":54.7857,"end":55,"row":"darkness","mag":2.5},{"start":55,"end":55.2143,"row":"darkness","mag":2.9},{"start":55.2143,"end":55.4286,"row":"darkness","mag":3.3},{"start":55.5714,"end":55.7143,"row":"darkness","mag":4},{"start":55.7143,"end":55.8571,"row":"darkness","mag":4},{"start":55.8571,"end":56,"row":"darkness","mag":5},{"start":56,"end":56.1429,"row":"darkness","mag":6},{"start":56.1429,"end":56.2857,"row":"darkness","mag":6.6},{"start":56.2857,"end":56.4286,"row":"darkness","mag":7},{"start":56.5714,"end":56.7857,"row":"darkness","mag":7},{"start":56.7857,"end":57,"row":"darkness","mag":7.1},{"start":57,"end":57.2143,"row":"darkness","mag":7.5},{"start":57.2143,"end":57.4286,"row":"darkness","mag":8.8},{"start":57.5714,"end":57.7857,"row":"darkness","mag":9.7},{"start":57.7857,"end":58.4286,"row":"darkness","mag":10},{"start":58.5714,"end":59.4286,"row":"darkness","mag":10},{"start":59.5714,"end":60.4286,"row":"darkness","mag":10},{"start":60.5714,"end":61.4286,"row":"darkness","mag":10},{"start":61.5714,"end":62.4286,"row":"darkness","mag":10},{"start":62.5714,"end":63.4286,"row":"darkness","mag":10},{"start":63.5714,"end":64.2143,"row":"darkness","mag":10},{"start":64.2143,"end":64.4286,"row":"darkness","mag":9.2},{"start":64.5714,"end":65.4286,"row":"darkness","mag":7.2},{"start":65.5714,"end":65.7143,"row":"darkness","mag":6.6},{"start":65.7143,"end":65.8571,"row":"darkness","mag":6.6},{"start":65.8571,"end":66,"row":"darkness","mag":6},{"start":66,"end":66.1429,"row":"darkness","mag":4},{"start":66.1429,"end":66.2857,"row":"darkness","mag":3.8},{"start":66.2857,"end":66.4286,"row":"darkness","mag":3.5},{"start":66.5714,"end":66.7857,"row":"darkness","mag":3},{"start":66.7857,"end":67,"row":"darkness","mag":2.7},{"start":67,"end":67.2143,"row":"darkness","mag":2.4},{"start":67.2143,"end":67.4286,"row":"darkness","mag":2.1},{"start":67.5714,"end":68,"row":"darkness","mag":1.6},{"start":68,"end":68.4286,"row":"darkness","mag":1},{"start":68.5714,"end":69,"row":"darkness","mag":0.6},{"start":69,"end":69.4286,"row":"darkness","mag":0.2},{"start":69.5714,"end":70.4286,"row":"darkness","mag":0},{"start":70.5714,"end":71.4286,"row":"darkness","mag":0},{"start":71.5714,"end":72.4286,"row":"darkness","mag":0},{"start":72.5714,"end":73.4286,"row":"darkness","mag":0},{"start":73.5714,"end":74.4286,"row":"darkness","mag":0},{"start":74.5714,"end":75.4286,"row":"darkness","mag":0},
{"start":75.5714,"end":76.4286,"row":"darkness","mag":0.1},{"start":76.5714,"end":77,"row":"darkness","mag":0.5},{"start":77,"end":77.4286,"row":"darkness","mag":0.9},{"start":77.5714,"end":77.7857,"row":"darkness","mag":1.2},{"start":77.7857,"end":78,"row":"darkness","mag":1.5},{"start":78,"end":78.2143,"row":"darkness","mag":1.8},{"start":78.2143,"end":78.4286,"row":"darkness","mag":2},{"start":78.5714,"end":78.7857,"row":"darkness","mag":2.2},{"start":78.7857,"end":79,"row":"darkness","mag":2.5},{"start":79,"end":79.2143,"row":"darkness","mag":2.9},{"start":79.2143,"end":79.4286,"row":"darkness","mag":3.3},{"start":79.5714,"end":79.7143,"row":"darkness","mag":4},{"start":79.7143,"end":79.8571,"row":"darkness","mag":4},{"start":79.8571,"end":80,"row":"darkness","mag":5},{"start":80,"end":80.1429,"row":"darkness","mag":6},{"start":80.1429,"end":80.2857,"row":"darkness","mag":6.6},{"start":80.2857,"end":80.4286,"row":"darkness","mag":7},
{"start":-0.4286,"end":-0.1429,"row":"xdarkness","mag":9.3},{"start":-0.1429,"end":0.4286,"row":"xdarkness","mag":10}
],
"digits":[
{"hour":0,"row":"tens","digit":"1","tone":"sat"},{"hour":1,"row":"tens","digit":"1","tone":"sat"},{"hour":2,"row":"tens","digit":"1","tone":"sat"},{"hour":3,"row":"tens","digit":"1","tone":"sat"},{"hour":4,"row":"tens","digit":"1","tone":"sat"},{"hour":5,"row":"tens","digit":"1","tone":"sat"},{"hour":6,"row":"tens","digit":"1","tone":"sat"},{"hour":7,"row":"tens","digit":"1","tone":"sat"},{"hour":8,"row":"tens","digit":"2","tone":"sat"},{"hour":9,"row":"tens","digit":"2","tone":"sat"},{"hour":10,"row":"tens","digit":"2","tone":"sat"},{"hour":11,"row":"tens","digit":"2","tone":"sat"},
{"hour":22,"row":"tens","digit":"1","tone":"sun"},{"hour":23,"row":"tens","digit":"1","tone":"sun"},{"hour":24,"row":"tens","digit":"1","tone":"sun"},{"hour":25,"row":"tens","digit":"1","tone":"sun"},{"hour":26,"row":"tens","digit":"1","tone":"sun"},{"hour":27,"row":"tens","digit":"1","tone":"sun"},{"hour":28,"row":"tens","digit":"1","tone":"sun"},{"hour":29,"row":"tens","digit":"1","tone":"sun"},{"hour":30,"row":"tens","digit":"1","tone":"sun"},{"hour":31,"row":"tens","digit":"1","tone":"sun"},{"hour":32,"row":"tens","digit":"2","tone":"sun"},{"hour":33,"row":"tens","digit":"2","tone":"sun"},{"hour":34,"row":"tens","digit":"2","tone":"sun"},{"hour":35,"row":"tens","digit":"2","tone":"sun"},
{"hour":46,"row":"tens","digit":"1","tone":"mon"},{"hour":47,"row":"tens","digit":"1","tone":"mon"},{"hour":48,"row":"tens","digit":"1","tone":"mon"},{"hour":49,"row":"tens","digit":"1","tone":"mon"},{"hour":50,"row":"tens","digit":"1","tone":"mon"},{"hour":51,"row":"tens","digit":"1","tone":"mon"},{"hour":52,"row":"tens","digit":"1","tone":"mon"},{"hour":53,"row":"tens","digit":"1","tone":"mon"},{"hour":54,"row":"tens","digit":"1","tone":"mon"},{"hour":55,"row":"tens","digit":"1","tone":"mon"},{"hour":56,"row":"tens","digit":"2","tone":"mon"},{"hour":57,"row":"tens","digit":"2","tone":"mon"},{"hour":58,"row":"tens","digit":"2","tone":"mon"},{"hour":59,"row":"tens","digit":"2","tone":"mon"},
{"hour":70,"row":"tens","digit":"1","tone":"tue"},{"hour":71,"row":"tens","digit":"1","tone":"tue"},{"hour":72,"row":"tens","digit":"1","tone":"tue"},{"hour":73,"row":"tens","digit":"1","tone":"tue"},{"hour":74,"row":"tens","digit":"1","tone":"tue"},{"hour":75,"row":"tens","digit":"1","tone":"tue"},{"hour":76,"row":"tens","digit":"1","tone":"tue"},{"hour":77,"row":"tens","digit":"1","tone":"tue"},{"hour":78,"row":"tens","digit":"1","tone":"tue"},{"hour":79,"row":"tens","digit":"1","tone":"tue"},{"hour":80,"row":"tens","digit":"2","tone":"tue"},
{"hour":0,"row":"xtens","digit":"2","tone":"tue"},{"hour":0,"row":"xones","digit":"3","tone":"tue"},
{"hour":0,"row":"ones","digit":"2","tone":"sat"},{"hour":1,"row":"ones","digit":"3","tone":"sat"},{"hour":2,"row":"ones","digit":"4","tone":"sat"},{"hour":3,"row":"ones","digit":"5","tone":"sat"},{"hour":4,"row":"ones","digit":"6","tone":"sat"},{"hour":5,"row":"ones","digit":"7","tone":"sat"},{"hour":6,"row":"ones","digit":"8","tone":"sat"},{"hour":7,"row":"ones","digit":"9","tone":"sat"},{"hour":8,"row":"ones","digit":"0","tone":"sat"},{"hour":9,"row":"ones","digit":"1","tone":"sat"},{"hour":10,"row":"ones","digit":"2","tone":"sat"},{"hour":11,"row":"ones","digit":"3","tone":"sat"},
{"hour":12,"row":"ones","digit":"0","tone":"sun"},{"hour":13,"row":"ones","digit":"1","tone":"sun"},{"hour":14,"row":"ones","digit":"2","tone":"sun"},{"hour":15,"row":"ones","digit":"3","tone":"sun"},{"hour":16,"row":"ones","digit":"4","tone":"sun"},{"hour":17,"row":"ones","digit":"5","tone":"sun"},{"hour":18,"row":"ones","digit":"6","tone":"sun"},{"hour":19,"row":"ones","digit":"7","tone":"sun"},{"hour":20,"row":"ones","digit":"8","tone":"sun"},{"hour":21,"row":"ones","digit":"9","tone":"sun"},{"hour":22,"row":"ones","digit":"0","tone":"sun"},{"hour":23,"row":"ones","digit":"1","tone":"sun"},{"hour":24,"row":"ones","digit":"2","tone":"sun"},{"hour":25,"row":"ones","digit":"3","tone":"sun"},{"hour":26,"row":"ones","digit":"4","tone":"sun"},{"hour":27,"row":"ones","digit":"5","tone":"sun"},{"hour":28,"row":"ones","digit":"6","tone":"sun"},{"hour":29,"row":"ones","digit":"7","tone":"sun"},{"hour":30,"row":"ones","digit":"8","tone":"sun"},{"hour":31,"row":"ones","digit":"9","tone":"sun"},{"hour":32,"row":"ones","digit":"0","tone":"sun"},{"hour":33,"row":"ones","digit":"1","tone":"sun"},{"hour":34,"row":"ones","digit":"2","tone":"sun"},{"hour":35,"row":"ones","digit":"3","tone":"sun"},
{"hour":36,"row":"ones","digit":"0","tone":"mon"},{"hour":37,"row":"ones","digit":"1","tone":"mon"},{"hour":38,"row":"ones","digit":"2","tone":"mon"},{"hour":39,"row":"ones","digit":"3","tone":"mon"},{"hour":40,"row":"ones","digit":"4","tone":"mon"},{"hour":41,"row":"ones","digit":"5","tone":"mon"},{"hour":42,"row":"ones","digit":"6","tone":"mon"},{"hour":43,"row":"ones","digit":"7","tone":"mon"},{"hour":44,"row":"ones","digit":"8","tone":"mon"},{"hour":45,"row":"ones","digit":"9","tone":"mon"},{"hour":46,"row":"ones","digit":"0","tone":"mon"},{"hour":47,"row":"ones","digit":"1","tone":"mon"},{"hour":48,"row":"ones","digit":"2","tone":"mon"},{"hour":49,"row":"ones","digit":"3","tone":"mon"},{"hour":50,"row":"ones","digit":"4","tone":"mon"},{"hour":51,"row":"ones","digit":"5","tone":"mon"},{"hour":52,"row":"ones","digit":"6","tone":"mon"},{"hour":53,"row":"ones","digit":"7","tone":"mon"},{"hour":54,"row":"ones","digit":"8","tone":"mon"},{"hour":55,"row":"ones","digit":"9","tone":"mon"},{"hour":56,"row":"ones","digit":"0","tone":"mon"},{"hour":57,"row":"ones","digit":"1","tone":"mon"},{"hour":58,"row":"ones","digit":"2","tone":"mon"},{"hour":59,"row":"ones","digit":"3","tone":"mon"},
{"hour":60,"row":"ones","digit":"0","tone":"tue"},{"hour":61,"row":"ones","digit":"1","tone":"tue"},{"hour":62,"row":"ones","digit":"2","tone":"tue"},{"hour":63,"row":"ones","digit":"3","tone":"tue"},{"hour":64,"row":"ones","digit":"4","tone":"tue"},{"hour":65,"row":"ones","digit":"5","tone":"tue"},{"hour":66,"row":"ones","digit":"6","tone":"tue"},{"hour":67,"row":"ones","digit":"7","tone":"tue"},{"hour":68,"row":"ones","digit":"8","tone":"tue"},{"hour":69,"row":"ones","digit":"9","tone":"tue"},{"hour":70,"row":"ones","digit":"0","tone":"tue"},{"hour":71,"row":"ones","digit":"1","tone":"tue"},{"hour":72,"row":"ones","digit":"2","tone":"tue"},{"hour":73,"row":"ones","digit":"3","tone":"tue"},{"hour":74,"row":"ones","digit":"4","tone":"tue"},{"hour":75,"row":"ones","digit":"5","tone":"tue"},{"hour":76,"row":"ones","digit":"6","tone":"tue"},{"hour":77,"row":"ones","digit":"7","tone":"tue"},{"hour":78,"row":"ones","digit":"8","tone":"tue"},{"hour":79,"row":"ones","digit":"9","tone":"tue"},{"hour":80,"row":"ones","digit":"0","tone":"tue"}
]
},
"layer":[
{"data":{"values":[{"start":-10,"end":-9.1429,"top":-0.375,"bottom":4.375,"tone":"sky"},{"start":-10,"end":-9.1429,"top":6.625,"bottom":10.375,"tone":"ground"},{"start":-10,"end":-9.1429,"top":15.875,"bottom":17.6875,"tone":"sky"},{"start":44.8571,"end":45.3571,"top":19.375,"bottom":20.3125,"tone":"flag"},{"start":45.3571,"end":46.3571,"top":19.375,"bottom":20.3125,"tone":"white"},{"start":46.3571,"end":46.7857,"top":19.375,"bottom":20.3125,"tone":"flag"},{"start":46.7857,"end":56.7143,"top":19.375,"bottom":20.3125,"tone":"white"}]},
"mark":{"type":"rect"},
"encoding":{"x":{"field":"start","type":"quantitative","axis":null,"scale":{"domain":[-10,80.7142857],"nice":false,"zero":false}},"x2":{"field":"end"},"y":{"field":"top","type":"quantitative","axis":null,"scale":{"domain":[-5.1875,20.3125],"reverse":true,"nice":false,"zero":false}},"y2":{"field":"bottom"},"color":{"field":"tone","type":"nominal","legend":null,"scale":{"domain":["b0","b1","b1b","b2","b3","b4","b5","b6","t0","t1","t2","t3","g0","g1","g2","w","lime","sea","cyan","yellow","amber","orange","ored","red","dred","tr","to","tq","white","brown","sat","sun","mon","tue","local","sky","ground","flag","title","chart","alert","black"],"range":["#003f7f","#0f5090","#16599c","#2b6cad","#4080c4","#5294d8","#629fe3","#76b4f5","#7fbfbf","#96d6d6","#a4e4e4","#b5f8f8","#c3c3c3","#d5d5d5","#e9e9e9","#fbfbfb","#99ff66","#55ffaa","#0dffe8","#eeff11","#ffcc00","#ff8800","#ff3300","#e60000","#b80000","#e00000","#ff2200","#ff5f00","#ffffff","#a0522d","#80ff80","#ffff00","#ff8080","#ff00ff","#cccc00","#0055ee","#556b00","#ff0000","#ffff00","#00cccc","#ff0000","#000000"]}}}},
{"data":{"name":"cells"},"transform":[{"lookup":"row","from":{"data":{"name":"rows"},"key":"row","fields":["lane"]}}],"mark":{"type":"rect","width":12,"height":12},
"encoding":{"x":{"field":"hour","type":"quantitative"},"y":{"field":"lane","type":"quantitative"},"color":{"field":"level","type":"nominal"}}},
{"data":{"name":"links"},"transform":[{"lookup":"row","from":{"data":{"name":"rows"},"key":"row","fields":["lane"]}}],"mark":{"type":"rect","width":2,"height":8},
"encoding":{"x":{"field":"hour","type":"quantitative"},"y":{"field":"lane","type":"quantitative"},"color":{"field":"level","type":"nominal"}}},
{"data":{"name":"dark"},"transform":[{"lookup":"row","from":{"data":{"name":"rows"},"key":"row","fields":["lane"]}}],"mark":{"type":"rect","height":12},
"encoding":{"x":{"field":"start","type":"quantitative"},"x2":{"field":"end"},"y":{"field":"lane","type":"quantitative"},"fill":{"field":"mag","type":"quantitative","legend":null,"scale":{"domain":[0,1,2,3,4,5,6,7,8,9,10],"range":["#ffffff","#fff5ea","#fee8c8","#ffd090","#ffb030","#60a860","#0090f0","#0058e0","#0040c8","#001090","#000860"]}}}},
{"data":{"values":[{"hour":11.5714,"top":-0.375,"bottom":10.375},{"hour":35.5714,"top":-0.375,"bottom":10.375},{"hour":59.5714,"top":-0.375,"bottom":10.375},{"hour":0.5714,"top":15.875,"bottom":17.5625}]},"mark":{"type":"rule","color":"#ff0000","strokeWidth":2},
"encoding":{"x":{"field":"hour","type":"quantitative"},"y":{"field":"top","type":"quantitative"},"y2":{"field":"bottom"}}},
{"data":{"name":"digits"},"transform":[{"lookup":"row","from":{"data":{"name":"rows"},"key":"row","fields":["lane"]}}],"mark":{"type":"text","fontSize":14,"align":"center","baseline":"middle"},
"encoding":{"x":{"field":"hour","type":"quantitative"},"y":{"field":"lane","type":"quantitative"},"text":{"field":"digit"},"color":{"field":"tone","type":"nominal"}}},
{"data":{"name":"rows"},"transform":[{"filter":"datum.label != ''"}],"mark":{"type":"text","fontSize":15,"align":"left","baseline":"middle","dy":-2},
"encoding":{"x":{"datum":-9},"y":{"field":"lane","type":"quantitative"},"text":{"field":"label"},"color":{"field":"tone","type":"nominal"}}},
{"data":{"values":[{"text":"2026-07-18","place":-9.857,"lane":-3,"tone":"sat"},{"text":"Local Time","place":-9.857,"lane":-2.0625,"tone":"local"},{"text":"Saturday, 18","place":-0.357,"lane":-3,"tone":"sat"},{"text":"Sunday, 19","place":21.571,"lane":-3,"tone":"sun"},{"text":"Monday, 20","place":45.571,"lane":-3,"tone":"mon"},{"text":"Tuesday, 21","place":69.571,"lane":-3,"tone":"tue"},{"text":"EXTENDED Forecast. Each block is 3 hours. (A sponsored feature)","place":-10,"lane":12,"tone":"alert"},{"text":"2026-07-21","place":-9.857,"lane":13.1875,"tone":"tue"},{"text":"Local Time","place":-9.857,"lane":14.1875,"tone":"local"},{"text":"© 2026 Attilla Danko\u00a0\u00a0forecast: A.Rahill\u00a0\u00a0data:","place":13.929,"lane":19.75,"tone":"white"}]},"mark":{"type":"text","fontSize":15,"align":"left","baseline":"middle"},
"encoding":{"x":{"field":"place","type":"quantitative"},"y":{"field":"lane","type":"quantitative"},"text":{"field":"text"},"color":{"field":"tone","type":"nominal"}}},
{"data":{"values":[{"text":"Old Fields Observatory","place":19.07,"lane":-4.4375,"tone":"title"},{"text":"Clear Sky Chart","place":38.786,"lane":-4.4375,"tone":"chart"}]},"mark":{"type":"text","fontSize":20,"fontWeight":"bold","align":"left","baseline":"middle"},
"encoding":{"x":{"field":"place","type":"quantitative"},"y":{"field":"lane","type":"quantitative"},"text":{"field":"text"},"color":{"field":"tone","type":"nominal"}}},
{"data":{"values":[{"text":"(GMT -4.0)","place":-9.786,"lane":-1.375,"tone":"local"},{"text":"(GMT -4.0)","place":-9.786,"lane":14.9375,"tone":"local"}]},"mark":{"type":"text","fontSize":8,"fontWeight":"bold","align":"left","baseline":"middle"},
"encoding":{"x":{"field":"place","type":"quantitative"},"y":{"field":"lane","type":"quantitative"},"text":{"field":"text"},"color":{"field":"tone","type":"nominal"}}},
{"data":{"values":[{"text":"── Sky ──","lane":2,"tone":"sun"},{"text":"─ Ground ─","lane":8.5,"tone":"white"},{"text":"Sky","lane":16.75,"tone":"sun"}]},"mark":{"type":"text","fontSize":11,"angle":270,"align":"center","baseline":"middle"},
"encoding":{"x":{"datum":-9.571},"y":{"field":"lane","type":"quantitative"},"text":{"field":"text"},"color":{"field":"tone","type":"nominal"}}},
{"data":{"values":[{"text":"Environment","place":47.786,"lane":19.6},{"text":"Canada","place":47.786,"lane":20.03},{"text":"Environnement","place":52.43,"lane":19.6},{"text":"Canada","place":52.43,"lane":20.03}]},"mark":{"type":"text","fontSize":9,"font":"Liberation Sans","align":"left","baseline":"middle","color":"#000000"},
"encoding":{"x":{"field":"place","type":"quantitative"},"y":{"field":"lane","type":"quantitative"},"text":{"field":"text"}}},
{"data":{"values":[{"place":45.857,"lane":19.8125}]},"mark":{"type":"point","shape":"M0,-1L0.3,-0.5L0.7,-0.7L0.5,0L1,0.1L0.3,0.5L0.1,0.9L-0.1,0.9L-0.3,0.5L-1,0.1L-0.5,0L-0.7,-0.7L-0.3,-0.5Z","filled":true,"color":"#ff0000","size":60,"opacity":1},
"encoding":{"x":{"field":"place","type":"quantitative"},"y":{"field":"lane","type":"quantitative"}}}
]}
